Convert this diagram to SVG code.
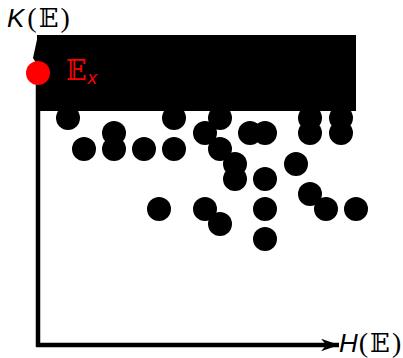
<svg xmlns="http://www.w3.org/2000/svg" width="403" height="358" viewBox="0 0 403 358">
<style>
.dot{fill:#000}
.lbl{font-family:"Liberation Sans","DejaVu Sans",sans-serif;font-size:26px}
.bb{font-family:"DejaVu Serif","DejaVu Sans",serif;font-style:normal}
.par{font-family:"Liberation Serif","DejaVu Serif",serif;font-style:normal;font-size:28px}
</style>
<defs>
<marker id="ah" viewBox="0 0 10 10" refX="10" refY="5" markerWidth="4" markerHeight="2.8" orient="auto" markerUnits="strokeWidth" preserveAspectRatio="none">
<path d="M0,0 L10,5 L0,10 L3,5 Z" fill="#000"/>
</marker>
</defs>
<g id="connectors">
<path d="M38,347 L38,60" stroke="#000" stroke-width="4.5" fill="none"/>
<path d="M36,345 L339,345" stroke="#000" stroke-width="4.5" fill="none" marker-end="url(#ah)"/>
</g>
<g id="region">
<rect x="37" y="35" width="319" height="76" fill="#000"/>
<polygon points="38,35 33,58 38,66" fill="#000"/>
</g>
<g id="dots">
<circle class="dot" cx="68" cy="118" r="12"/>
<circle class="dot" cx="174" cy="118" r="12"/>
<circle class="dot" cx="220" cy="118" r="12"/>
<circle class="dot" cx="310" cy="118" r="12"/>
<circle class="dot" cx="341" cy="118" r="12"/>
<circle class="dot" cx="114" cy="133" r="12"/>
<circle class="dot" cx="205" cy="133" r="12"/>
<circle class="dot" cx="250" cy="133" r="12"/>
<circle class="dot" cx="265" cy="133" r="12"/>
<circle class="dot" cx="310" cy="133" r="12"/>
<circle class="dot" cx="341" cy="133" r="12"/>
<circle class="dot" cx="84" cy="149" r="12"/>
<circle class="dot" cx="114" cy="149" r="12"/>
<circle class="dot" cx="144" cy="149" r="12"/>
<circle class="dot" cx="174" cy="149" r="12"/>
<circle class="dot" cx="220" cy="149" r="12"/>
<circle class="dot" cx="235" cy="164" r="12"/>
<circle class="dot" cx="296" cy="164" r="12"/>
<circle class="dot" cx="235" cy="179" r="12"/>
<circle class="dot" cx="265" cy="179" r="12"/>
<circle class="dot" cx="310" cy="194" r="12"/>
<circle class="dot" cx="159" cy="209" r="12"/>
<circle class="dot" cx="205" cy="209" r="12"/>
<circle class="dot" cx="265" cy="209" r="12"/>
<circle class="dot" cx="326" cy="209" r="12"/>
<circle class="dot" cx="356" cy="209" r="12"/>
<circle class="dot" cx="220" cy="224" r="12"/>
<circle class="dot" cx="265" cy="239" r="12"/>
</g>
<g id="point-Ex">
<circle cx="38" cy="73" r="12" fill="#ff0000"/>
<text class="lbl" x="66" y="80" fill="#ff0000"><tspan class="bb" font-size="27">𝔼</tspan><tspan font-style="italic" font-size="19" dx="1" dy="4">x</tspan></text>
</g>
<g id="axis-labels">
<text class="lbl" x="7" y="27"><tspan font-style="italic">K</tspan><tspan class="par" dx="3">(</tspan><tspan class="bb" dx="2">𝔼</tspan><tspan class="par" dx="2">)</tspan></text>
<text class="lbl" x="339" y="352"><tspan font-style="italic">H</tspan><tspan class="par" dx="1">(</tspan><tspan class="bb" dx="2">𝔼</tspan><tspan class="par" dx="2">)</tspan></text>
</g>
</svg>
